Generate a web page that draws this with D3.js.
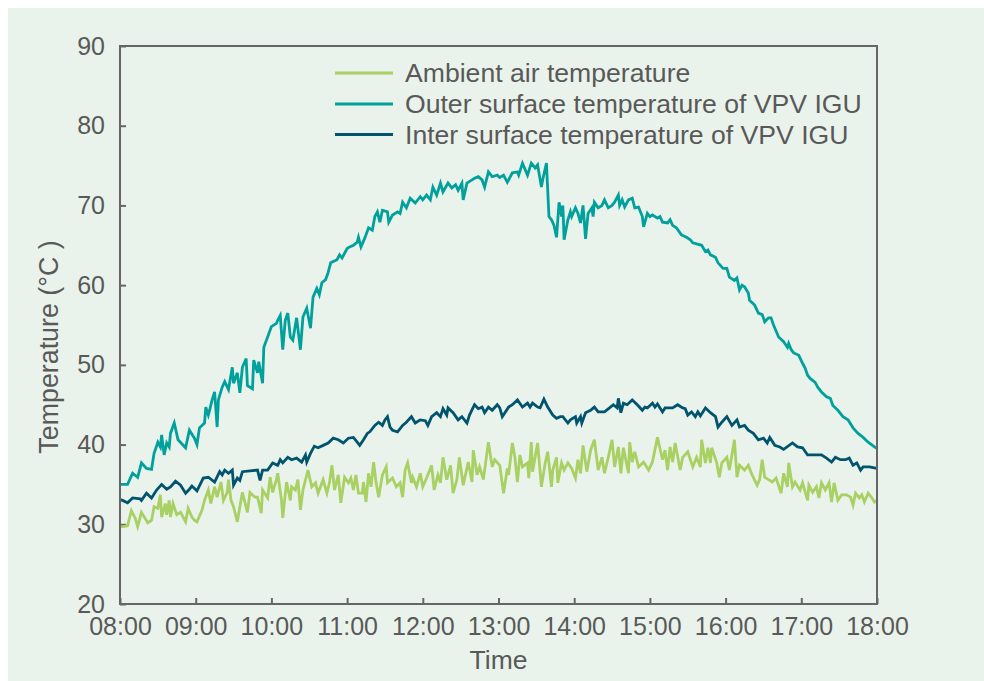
<!DOCTYPE html>
<html>
<head>
<meta charset="utf-8">
<script src="https://cdn.jsdelivr.net/npm/d3@7"></script>
<style>
  html, body { margin: 0; padding: 0; background: #ffffff; }
  svg { display: block; font-family: "Liberation Sans", Arial, sans-serif; }
</style>
</head>
<body>
<svg id="chart" width="984" height="681"></svg>
<script>
// ---- Data (minutes after 08:00, temperature in °C) ----
const xTickLabels = ["08:00","09:00","10:00","11:00","12:00","13:00","14:00","15:00","16:00","17:00","18:00"];
const yTickValues = [20,30,40,50,60,70,80,90];
const seriesNames = ["Ambient air temperature","Outer surface temperature of VPV IGU","Inter surface temperature of VPV IGU"];

const outerT = [0,6,10,14,17,21,25,27,30,32,33,35,37,39,40,43,46,52,55,59,61,63,67,68,70,71,73,75,77,78,81,83,86,89,90,93,95,97,100,101,105,106,109,110,113,114,117,120,124,125,127,129,131,133,135,137,140,143,145,148,151,153,156,158,160,163,165,167,172,174,176,180,182,185,188,189,191,194,197,200,202,204,206,208,212,213,216,220,222,224,227,230,234,238,240,243,246,248,251,254,256,260,263,266,268,271,272,275,279,281,284,287,289,292,295,299,301,304,307,311,315,316,319,323,326,329,331,334,335,338,340,342,344,346,348,350,351,352,355,357,358,361,363,365,367,369,371,374,375,376,379,382,384,387,390,392,395,396,398,400,403,406,408,411,414,415,418,420,422,426,428,430,434,436,438,441,445,449,452,454,461,464,466,468,472,474,478,481,483,487,489,491,493,495,498,499,503,506,509,511,514,516,518,522,526,529,530,532,534,538,541,543,545,547,551,553,556,560,563,565,569,573,577,581,585,589,593,598,600];
const outerV = [35.0,35.0,36.4,35.9,37.7,37.0,36.9,38.9,40.3,39.7,41.2,38.7,40.2,39.7,41.4,42.7,40.6,39.6,41.8,40.8,40.0,42.1,42.7,44.7,43.7,44.3,45.6,46.6,42.2,45.6,47.2,47.9,46.9,49.7,47.7,49.0,46.5,49.7,50.8,47.4,47.0,50.6,49.0,50.4,47.7,52.2,53.5,54.8,55.2,55.6,56.2,51.9,55.6,56.5,53.5,53.1,55.9,51.9,56.0,57.1,54.6,58.5,59.6,58.8,60.3,60.7,61.6,62.8,63.2,63.8,63.4,64.6,64.8,65.0,65.4,66.0,64.8,65.9,67.2,66.9,68.6,69.2,67.9,69.4,69.2,67.9,68.8,69.2,69.0,70.4,69.7,70.9,70.3,71.1,70.7,71.3,70.7,72.3,71.3,72.8,71.7,72.8,72.2,72.6,71.9,72.8,70.7,72.8,73.2,73.4,73.6,73.2,72.3,74.2,73.6,73.8,73.5,73.8,72.9,74.1,74.2,73.8,75.3,73.8,75.3,74.7,75.1,72.3,73.2,75.3,68.6,68.2,67.5,66.0,70.4,68.6,70.0,65.7,68.2,69.2,68.6,69.7,69.0,67.8,70.0,65.8,69.0,69.7,68.6,70.4,69.7,70.0,70.7,69.7,70.0,70.4,71.3,70.0,70.7,69.8,70.7,70.9,69.7,69.8,68.6,67.3,69.0,68.6,68.8,68.4,68.6,67.9,67.8,68.2,67.5,67.2,66.3,66.0,65.7,65.3,65.0,64.2,64.4,63.8,63.5,62.8,62.1,62.1,61.0,60.6,60.9,59.4,60.0,59.8,59.0,58.1,57.5,56.5,56.3,55.4,55.9,55.9,55.0,53.5,52.9,52.2,52.7,51.9,51.5,51.2,50.2,49.6,48.7,48.3,47.8,47.2,46.6,46.0,45.8,44.9,44.3,43.5,43.1,42.1,41.4,40.9,40.3,39.7,39.5];

const innerT = [0,2,6,10,16,17,21,25,29,33,37,40,44,48,52,55,57,61,66,70,75,79,81,83,86,89,90,93,95,97,103,109,111,113,117,121,125,127,129,133,136,140,144,147,148,151,154,157,161,165,169,173,177,181,185,188,190,193,196,198,202,205,208,210,212,214,216,220,224,227,231,234,238,242,244,247,251,254,256,259,260,264,268,271,275,277,281,284,287,289,292,295,299,301,303,308,311,315,319,323,325,327,331,333,336,339,343,346,349,351,355,357,361,362,365,366,369,373,376,379,384,388,391,394,395,397,399,402,406,410,414,416,418,422,424,426,430,432,438,442,446,448,450,453,456,458,460,464,468,472,474,477,481,485,489,491,495,498,502,506,510,513,515,519,523,526,533,537,541,545,548,552,556,560,564,567,571,575,578,581,584,587,589,594,600];
const innerV = [33.1,33.0,32.7,33.3,33.2,33.0,33.9,33.3,34.3,35.0,34.4,34.7,35.4,34.9,33.9,34.4,34.8,34.2,35.8,35.9,35.3,36.6,36.2,36.8,36.4,36.8,34.9,35.8,35.5,36.6,36.7,36.8,35.5,36.8,36.8,37.7,37.4,38.1,37.7,38.4,38.1,38.3,37.8,38.7,37.8,38.9,39.8,39.6,39.9,40.2,40.8,40.6,40.2,40.8,40.9,40.3,39.9,40.6,41.4,41.6,42.4,42.8,42.4,43.1,43.5,42.2,41.8,41.6,42.4,42.8,43.5,42.7,43.1,43.0,42.4,43.5,44.0,43.5,44.5,43.7,44.6,44.0,43.1,43.5,42.7,43.7,45.0,44.5,44.7,44.0,44.7,44.3,45.0,44.6,43.5,44.7,45.0,45.6,44.7,45.2,44.7,45.2,44.7,44.6,45.7,44.7,43.7,43.3,43.5,43.5,42.7,43.1,43.5,42.7,43.5,42.7,44.0,44.3,44.7,44.1,44.1,44.6,45.0,44.6,45.8,44.0,45.2,45.0,45.6,45.0,44.3,44.7,44.6,45.2,44.7,45.1,44.1,44.6,44.6,45.0,44.6,44.5,43.7,44.1,43.5,44.1,43.6,44.6,44.0,43.5,42.2,42.8,43.5,42.4,43.1,42.2,42.4,41.8,41.4,40.6,40.8,40.2,40.9,39.9,39.7,39.4,40.2,39.7,39.6,38.7,38.7,38.7,38.7,38.3,37.8,38.4,38.1,38.1,38.3,37.4,37.7,36.8,37.2,37.2,37.0];

const ambientT = [0,2,6,9,12,14,17,22,25,27,30,32,33,36,37,39,40,42,45,48,52,54,57,59,61,65,67,70,72,75,77,80,82,85,86,88,90,93,95,97,101,103,107,109,112,113,117,119,121,124,125,128,129,132,135,136,139,141,143,145,149,152,155,157,161,164,166,168,170,173,175,178,181,183,185,187,189,192,193,195,197,199,201,203,205,208,211,212,216,219,222,224,226,228,231,232,235,238,240,243,247,249,252,254,256,259,262,264,267,269,272,276,279,280,283,285,288,292,295,297,301,304,307,308,311,313,315,317,319,323,324,326,327,331,333,334,337,339,342,343,346,347,350,352,355,358,361,363,365,367,370,373,376,379,382,384,387,390,392,395,397,399,403,404,406,408,411,415,419,422,426,430,432,434,436,438,440,444,446,450,454,457,460,461,464,466,468,469,473,475,477,481,483,487,489,491,495,498,501,505,507,509,511,514,517,520,524,526,529,530,533,535,539,541,545,546,549,552,554,556,559,562,564,566,569,572,576,579,581,583,586,588,590,593,596,598,600];
const ambientV = [29.7,29.7,29.8,31.7,30.8,29.7,31.5,30.2,30.5,32.2,32.0,33.7,30.9,32.6,31.2,33.0,30.9,32.6,31.2,31.5,30.3,32.0,30.9,30.5,30.3,31.8,33.0,34.3,32.6,34.7,33.4,35.3,33.0,34.0,35.6,33.0,32.2,30.3,32.2,34.0,31.5,34.0,33.4,33.4,31.4,34.3,33.3,35.9,34.0,35.6,36.4,33.0,30.8,35.3,33.0,34.7,34.3,35.6,31.8,34.3,36.8,34.7,35.2,33.9,35.6,33.9,35.2,37.4,34.3,36.2,32.7,35.9,35.2,35.8,34.3,36.2,33.9,33.9,35.3,32.8,36.4,34.7,37.8,35.2,33.4,36.2,37.2,35.2,35.8,34.7,35.2,33.4,36.8,37.7,35.2,35.9,34.7,36.4,34.7,35.8,37.4,34.3,36.2,35.2,38.4,35.6,37.4,33.9,35.6,38.4,34.9,37.8,35.3,39.3,36.2,37.2,35.6,40.3,37.2,38.1,37.4,33.9,37.0,36.2,40.2,38.4,35.3,38.7,37.2,37.7,35.8,40.3,36.6,40.2,36.6,34.7,37.7,39.1,34.7,36.8,38.4,35.2,37.7,36.8,37.7,37.0,35.8,38.1,36.4,39.9,36.6,39.3,40.6,36.8,38.4,36.4,38.4,40.6,37.2,39.7,36.4,39.6,36.4,40.3,37.8,39.1,37.2,37.8,36.8,37.8,40.9,38.1,39.3,36.8,39.7,37.8,40.2,36.8,38.4,39.1,37.2,38.4,37.2,40.6,37.7,39.6,37.7,39.6,37.7,35.9,37.7,38.4,36.8,40.6,35.9,37.4,36.8,37.4,36.2,34.9,35.6,38.1,35.9,35.6,35.3,35.8,33.9,36.4,34.7,37.7,34.7,35.3,34.3,35.2,33.0,34.9,34.0,34.7,33.3,35.2,34.3,35.2,32.8,35.2,33.0,33.7,33.7,33.4,32.4,33.9,33.3,33.7,32.8,33.9,33.3,32.8,33.0];

const colors = ["#a8d063", "#00a09d", "#00546e"];

// ---- Drawing ----
const svg = d3.select("#chart");
const W = 984, H = 681;
const M = { left: 120, right: 877, top: 46, bottom: 604 };

svg.append("rect").attr("x", 0).attr("y", 0).attr("width", W).attr("height", H).attr("fill", "#ffffff");
svg.append("rect").attr("x", 8).attr("y", 8).attr("width", W - 8).attr("height", H - 8).attr("fill", "#eaf3eb");

const x = d3.scaleLinear().domain([0, 600]).range([M.left, M.right]);
const y = d3.scaleLinear().domain([20, 90]).range([M.bottom, M.top]);

const textColor = "#595959";
const axisColor = "#666666";

// Axes
const xAxis = d3.axisBottom(x)
  .tickValues(d3.range(0, 601, 60))
  .tickFormat((d, i) => xTickLabels[i])
  .tickSizeInner(-6).tickSizeOuter(0).tickPadding(13);
const gx = svg.append("g").attr("transform", `translate(0,${M.bottom})`).call(xAxis);

const yAxis = d3.axisLeft(y)
  .tickValues(yTickValues)
  .tickFormat(d3.format("d"))
  .tickSizeInner(-6).tickSizeOuter(0).tickPadding(15);
const gy = svg.append("g").attr("transform", `translate(${M.left},0)`).call(yAxis);

[gx, gy].forEach(g => {
  g.select(".domain").remove();
  g.selectAll(".tick line").attr("stroke", axisColor).attr("stroke-width", 2);
  g.selectAll(".tick text").attr("fill", textColor).style("font-size", "25px");
});

// Series lines
const seriesData = [
  ambientT.map((t, i) => [t, ambientV[i]]),
  outerT.map((t, i) => [t, outerV[i]]),
  innerT.map((t, i) => [t, innerV[i]])
];
const line = d3.line().x(d => x(d[0])).y(d => y(d[1]));
const plot = svg.append("g");
seriesData.forEach((data, k) => {
  plot.append("path")
    .datum(data)
    .attr("fill", "none")
    .attr("stroke", colors[k])
    .attr("stroke-width", 2.8)
    .attr("stroke-linejoin", "miter")
    .attr("stroke-miterlimit", 4)
    .attr("d", line);
});

// Frame
svg.append("rect")
  .attr("x", M.left).attr("y", M.top)
  .attr("width", M.right - M.left).attr("height", M.bottom - M.top)
  .attr("fill", "none").attr("stroke", axisColor).attr("stroke-width", 2);

// Legend
const legY = [73, 104, 134.5];
const legend = svg.append("g");
seriesNames.forEach((name, k) => {
  legend.append("line")
    .attr("x1", 335).attr("x2", 393)
    .attr("y1", legY[k]).attr("y2", legY[k])
    .attr("stroke", colors[k]).attr("stroke-width", 3);
  legend.append("text")
    .attr("x", 405).attr("y", legY[k]).attr("dy", "0.35em")
    .attr("fill", textColor).style("font-size", "26.6px")
    .text(name);
});

// Axis titles
svg.append("text")
  .attr("x", (M.left + M.right) / 2).attr("y", 669)
  .attr("text-anchor", "middle").attr("fill", textColor).style("font-size", "26.5px")
  .text("Time");

svg.append("text")
  .attr("transform", "translate(58,347) rotate(-90)")
  .attr("text-anchor", "middle").attr("fill", textColor).style("font-size", "26.8px")
  .text("Temperature (°C )");
</script>
</body>
</html>
